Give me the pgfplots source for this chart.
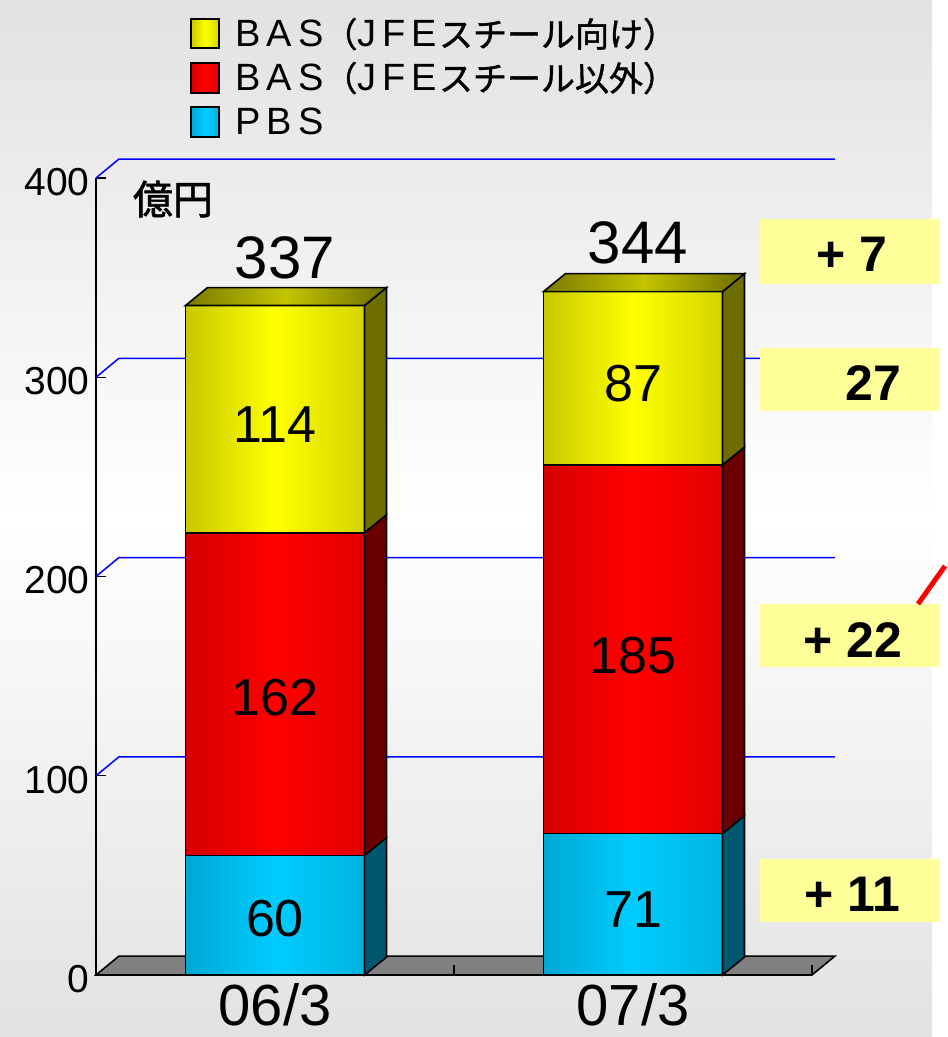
\documentclass[border=0pt]{standalone}
\usepackage{pgfplots}
\usepackage{pgfplotstable}
\pgfplotsset{compat=1.18}
\usepackage{fontspec}
\setmainfont{Liberation Sans}
\newfontfamily\cjk{Noto Sans CJK JP}
\newfontfamily\cjkb[FakeBold=1.5]{Noto Sans CJK JP}
\newfontfamily\cjkm[FakeBold=1.2]{Noto Sans CJK JP}

\definecolor{ylA}{HTML}{C8C800}
\definecolor{ylB}{HTML}{FFFF00}
\definecolor{ylC}{HTML}{D4D400}
\definecolor{ylS}{HTML}{6E6E00}
\definecolor{ylT1}{HTML}{7A7A00}
\definecolor{ylT2}{HTML}{C4C400}
\definecolor{rdA}{HTML}{D40000}
\definecolor{rdB}{HTML}{FF0000}
\definecolor{rdC}{HTML}{E20000}
\definecolor{rdS}{HTML}{6A0000}
\definecolor{cyA}{HTML}{00A8D4}
\definecolor{cyB}{HTML}{00CCFF}
\definecolor{cyC}{HTML}{00B4E0}
\definecolor{cyS}{HTML}{005870}
\definecolor{floorg}{HTML}{808080}
\definecolor{note}{HTML}{FFFF99}
\definecolor{bggray}{HTML}{E2E2E2}

% 06/3 and 07/3, bottom to top
\pgfplotstableread{
x pbs other jfe
0 60  162   114
1 71  185   87
}\sales

\pgfplotsset{
  frame/.style={
    at={(48pt,-487.5pt)}, anchor=south west,
    scale only axis, width=358pt, height=398.5pt,
    xmin=-0.5, xmax=1.5, ymin=0, ymax=400, clip=false,
  },
  pbsbar/.style={draw=black, line width=0.9pt, left color=cyA, right color=cyC, middle color=cyB},
  othbar/.style={draw=black, line width=0.9pt, left color=rdA, right color=rdC, middle color=rdB},
  jfebar/.style={draw=black, line width=0.9pt, left color=ylA, right color=ylC, middle color=ylB},
}
\newcommand\lsp{\hspace{3pt}}
\newcommand\legtxt{\fontsize{19}{20}\selectfont}
\newcommand\legcjk{\cjkm\fontsize{17}{18}\selectfont}

\begin{document}
\begin{tikzpicture}
\begin{scope}[x=0.5pt,y=-0.5pt]
\useasboundingbox (0,0) rectangle (932,1037);
\shade[top color=bggray, bottom color=bggray, middle color=white] (0,0) rectangle (932,1037);
\end{scope}

% axis, floor and back grid
\begin{axis}[
  frame,
  axis lines*=left,
  x axis line style={draw=none},
  y axis line style={black, line width=0.6pt},
  xtick={0,1}, xticklabels={06/3,07/3},
  xtick style={draw=none},
  ytick={0,100,200,300,400},
  ytick style={black, line width=0.6pt},
  tick align=inside, major tick length=5pt,
  /pgf/number format/assume math mode=true,
  yticklabel style={font=\fontsize{19.5}{20}\selectfont, inner sep=0pt, xshift=-3pt, yshift=-2pt},
  xticklabel style={font=\fontsize{29}{29}\selectfont, inner sep=0pt, yshift=-4pt},
]
\filldraw[fill=floorg, draw=black, line width=0.8pt] (axis cs:-0.5,0) -- (axis cs:1.5,0) -- (axis cs:1.564,9.5) -- (axis cs:-0.436,9.5) -- cycle;
\draw[black, line width=1.2pt] (axis cs:-0.5,0) -- (axis cs:1.5,0);
\draw[black, line width=0.8pt] (axis cs:0.5,0) -- (axis cs:0.5,5);
\draw[black, line width=0.8pt] (axis cs:1.5,0) -- (axis cs:1.5,5);
\draw[blue, line width=0.75pt] (axis cs:-0.5,100) -- (axis cs:-0.436,109.5) -- (axis cs:1.564,109.5);
\draw[blue, line width=0.75pt] (axis cs:-0.5,200) -- (axis cs:-0.436,209.5) -- (axis cs:1.564,209.5);
\draw[blue, line width=0.75pt] (axis cs:-0.5,300) -- (axis cs:-0.436,309.5) -- (axis cs:1.564,309.5);
\draw[blue, line width=0.75pt] (axis cs:-0.5,400) -- (axis cs:-0.436,409.5) -- (axis cs:1.564,409.5);
\end{axis}

% stacked bars, one axis per category so that each bar gets its own shading
\begin{axis}[frame, hide axis, ybar stacked, bar width=0.5]
\addplot[pbsbar, skip coords between index={1}{2}] table[x=x,y=pbs]{\sales};
\addplot[othbar, skip coords between index={1}{2}] table[x=x,y=other]{\sales};
\addplot[jfebar, skip coords between index={1}{2}] table[x=x,y=jfe]{\sales};
\end{axis}
\begin{axis}[frame, hide axis, ybar stacked, bar width=0.5]
\addplot[pbsbar, skip coords between index={0}{1}] table[x=x,y=pbs]{\sales};
\addplot[othbar, skip coords between index={0}{1}] table[x=x,y=other]{\sales};
\addplot[jfebar, skip coords between index={0}{1}] table[x=x,y=jfe]{\sales};
\end{axis}

% depth faces and labels
\begin{axis}[frame, hide axis]
\filldraw[fill=cyS, draw=black, line width=0.8pt] (axis cs:0.25,0) -- (axis cs:0.3115,9) -- (axis cs:0.3115,69) -- (axis cs:0.25,60) -- cycle;
\filldraw[fill=rdS, draw=black, line width=0.8pt] (axis cs:0.25,60) -- (axis cs:0.3115,69) -- (axis cs:0.3115,231) -- (axis cs:0.25,222) -- cycle;
\filldraw[fill=ylS, draw=black, line width=0.8pt] (axis cs:0.25,222) -- (axis cs:0.3115,231) -- (axis cs:0.3115,345) -- (axis cs:0.25,336) -- cycle;
\filldraw[fill=cyS, draw=black, line width=0.8pt] (axis cs:1.25,0) -- (axis cs:1.3115,9) -- (axis cs:1.3115,80) -- (axis cs:1.25,71) -- cycle;
\filldraw[fill=rdS, draw=black, line width=0.8pt] (axis cs:1.25,71) -- (axis cs:1.3115,80) -- (axis cs:1.3115,265) -- (axis cs:1.25,256) -- cycle;
\filldraw[fill=ylS, draw=black, line width=0.8pt] (axis cs:1.25,256) -- (axis cs:1.3115,265) -- (axis cs:1.3115,352) -- (axis cs:1.25,343) -- cycle;
\filldraw[left color=ylT1, right color=ylS, middle color=ylT2, draw=black, line width=0.8pt] (axis cs:-0.25,336) -- (axis cs:0.25,336) -- (axis cs:0.3115,345) -- (axis cs:-0.1885,345) -- cycle;
\filldraw[left color=ylT1, right color=ylS, middle color=ylT2, draw=black, line width=0.8pt] (axis cs:0.75,343) -- (axis cs:1.25,343) -- (axis cs:1.3115,352) -- (axis cs:0.8115,352) -- cycle;
\node[font=\fontsize{26}{26}\selectfont] at (axis cs:0,28.5) {60};
\node[font=\fontsize{26}{26}\selectfont] at (axis cs:0,139) {162};
\node[font=\fontsize{26}{26}\selectfont] at (axis cs:0,276) {114};
\node[font=\fontsize{26}{26}\selectfont] at (axis cs:1,33) {71};
\node[font=\fontsize{26}{26}\selectfont] at (axis cs:1,160.5) {185};
\node[font=\fontsize{26}{26}\selectfont] at (axis cs:1,297) {87};
\node[font=\fontsize{30}{30}\selectfont] at (axis cs:0.028,360) {337};
\node[font=\fontsize{30}{30}\selectfont] at (axis cs:1.014,367.5) {344};
\end{axis}

\begin{scope}[x=0.5pt,y=-0.5pt]
% legend
\filldraw[draw=black, line width=0.8pt, left color=ylA, right color=ylC, middle color=ylB] (191,19) rectangle (219,48);
\filldraw[draw=black, line width=0.8pt, left color=rdA, right color=rdC, middle color=rdB] (191,63) rectangle (219,93);
\filldraw[draw=black, line width=0.8pt, left color=cyA, right color=cyC, middle color=cyB] (191,107) rectangle (219,137);
\node[anchor=base west, inner sep=0pt, font=\legtxt] at (235,47) {B\lsp A\lsp S{\legcjk （}J\lsp F\lsp E\hspace{1pt}{\legcjk スチール向け）}};
\node[anchor=base west, inner sep=0pt, font=\legtxt] at (235,91) {B\lsp A\lsp S{\legcjk （}J\lsp F\lsp E\hspace{1pt}{\legcjk スチール以外）}};
\node[anchor=base west, inner sep=0pt, font=\legtxt] at (235,135) {P\lsp B\lsp S};
% unit
\node[inner sep=0pt, font=\cjkb\fontsize{20}{20}\selectfont] at (173,199) {億円};
% change boxes
\fill[note] (760,219) rectangle (940,284);
\fill[note] (760,348) rectangle (940,411);
\fill[note] (760,604) rectangle (940,667);
\fill[note] (760,859) rectangle (940,922);
\node[font=\bfseries\fontsize{25}{25}\selectfont] at (852,254) {+ 7};
\node[font=\bfseries\fontsize{25}{25}\selectfont] at (873,383) {27};
\node[font=\bfseries\fontsize{25}{25}\selectfont] at (853,640) {+ 22};
\node[font=\bfseries\fontsize{25}{25}\selectfont] at (852,894) {+ 11};
\draw[red, line width=2.5pt] (918,604) -- (945,566);
\end{scope}
\end{tikzpicture}
\end{document}
